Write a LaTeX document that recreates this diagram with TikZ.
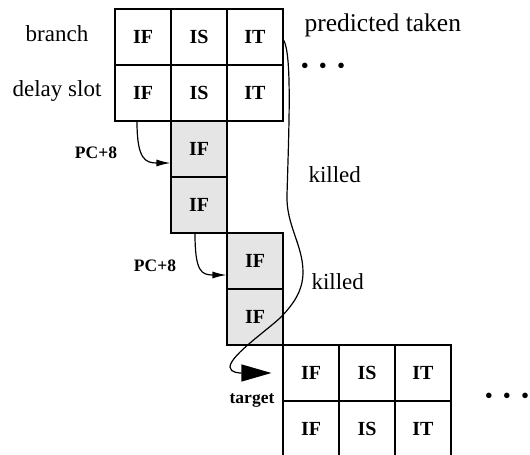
\documentclass[tikz,border=0pt]{standalone}
\usepackage{fontspec}
\setmainfont{Liberation Serif}
\usetikzlibrary{arrows.meta}
\begin{document}
\begin{tikzpicture}[x=1pt,y=1pt,
    stage/.style={draw,line width=1.2pt,minimum size=56pt,inner sep=0pt,font=\fontsize{20}{20}\selectfont\bfseries},
    killedstage/.style={stage,fill=gray!20},
    rowlabel/.style={font=\fontsize{23}{23}\selectfont,anchor=base},
    pclabel/.style={font=\fontsize{17.5}{17.5}\selectfont\bfseries,anchor=base},
    dots/.style={font=\fontsize{23}{23}\selectfont},
    flow/.style={line width=1.2pt,-{Latex[length=14pt,width=7pt]}}]
    \useasboundingbox (0,0) rectangle (530,455);
    %% Branch and delay slot
    \node[stage] (br1) at (143,418) {IF};
    \node[stage] (br2) at (199,418) {IS};
    \node[stage] (br3) at (255,418) {IT};
    \node[stage] (ds1) at (143,362) {IF};
    \node[stage] (ds2) at (199,362) {IS};
    \node[stage] (ds3) at (255,362) {IT};
    \node[rowlabel] (lbr) at (57,413) {branch};
    \node[rowlabel] (lds) at (57,358) {delay slot};
    \node[rowlabel,anchor=base west,font=\fontsize{25.5}{25.5}\selectfont] (lpt) at (301,423) {predicted taken};
    \node[dots] (more1) at (323,387) {\textbullet\hskip10pt\textbullet\hskip10pt\textbullet};
    %% Killed fetches
    \node[killedstage] (pc1) at (199,306) {IF};
    \node[killedstage] (pc2) at (199,250) {IF};
    \node[killedstage] (pd1) at (255,194) {IF};
    \node[killedstage] (pd2) at (255,138) {IF};
    \node[pclabel] (lpc1) at (96,296) {PC+8};
    \node[pclabel] (lpc2) at (155,183) {PC+8};
    \node[rowlabel,anchor=base west] (lk1) at (305,272) {killed};
    \node[rowlabel,anchor=base west] (lk2) at (308,165) {killed};
    %% Target
    \node[stage] (tg1) at (311,82) {IF};
    \node[stage] (tg2) at (367,82) {IS};
    \node[stage] (tg3) at (423,82) {IT};
    \node[stage] (nx1) at (311,26) {IF};
    \node[stage] (nx2) at (367,26) {IS};
    \node[stage] (nx3) at (423,26) {IT};
    \node[pclabel] (ltg) at (252,51) {target};
    \node[dots] (more2) at (507,57) {\textbullet\hskip10pt\textbullet\hskip10pt\textbullet};
    %% Arrows
    \draw[flow] ([xshift=-6pt]ds1.south) .. controls +(0,-38) and +(-25,0) .. ([yshift=-14pt]pc1.west);
    \draw[flow] ([xshift=-4pt]pc2.south) .. controls +(0,-38) and +(-25,0) .. ([yshift=-14pt]pd1.west);
    \draw[line width=1.2pt,-{Triangle[length=30pt,width=17pt]}] ([yshift=-3pt]br3.east)
        .. controls (292,400) and (289,330) .. (287,260)
        .. controls (286,230) and (303,210) .. (303,183)
        .. controls (303,163) and (292,150) .. (283,140)
        .. controls (272,128) and (230,100) .. (230,88)
        .. controls (230,82) and (240,82) .. ([xshift=-11pt]tg1.west);
\end{tikzpicture}
\end{document}
